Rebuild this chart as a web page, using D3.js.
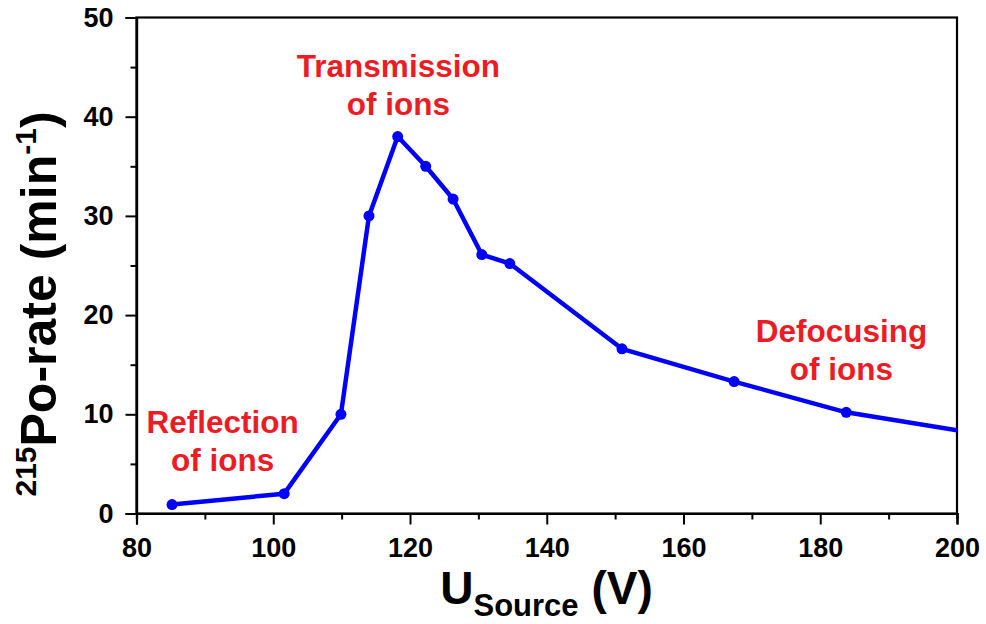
<!DOCTYPE html>
<html>
<head>
<meta charset="utf-8">
<script src="https://cdn.jsdelivr.net/npm/d3@7"></script>
<style>
  html, body { margin: 0; padding: 0; background: #fff; }
  svg { display: block; font-family: "Liberation Sans", Arial, sans-serif; }
</style>
</head>
<body>
<svg id="chart" width="986" height="624"></svg>
<script>
// Source voltage (V) and measured 215Po count rate (1/min)
const voltage = [85.2, 101.6, 109.9, 114.0, 118.2, 122.3, 126.3, 130.5, 134.6, 151.0, 167.4, 183.8, 200.0];
const rate    = [0.9, 2.0, 10.0, 30.0, 38.0, 35.0, 31.7, 26.1, 25.2, 16.6, 13.3, 10.2, 8.4];

const xTicks = [80, 100, 120, 140, 160, 180, 200];
const yTicks = [0, 10, 20, 30, 40, 50];

// Region annotations, anchored in data coordinates
const notes = [
  { x: 118.3, y: 44.0, lines: ["Transmission", "of ions"] },
  { x: 92.6,  y: 8.1,  lines: ["Reflection", "of ions"] },
  { x: 183.1, y: 17.3, lines: ["Defocusing", "of ions"] }
];

const svg = d3.select("#chart");
const L = 136.5, R = 957, T = 17.5, B = 513.5;

const x = d3.scaleLinear().domain([80, 200]).range([L, R]);
const y = d3.scaleLinear().domain([0, 50]).range([B, T]);

// Frame
svg.append("rect")
  .attr("x", L).attr("y", T).attr("width", R - L).attr("height", B - T)
  .attr("fill", "none").attr("stroke", "#000").attr("stroke-width", 2.2);

// Major and minor ticks
const xMinor = d3.range(90, 200, 20);
const yMinor = d3.range(5, 50, 10);

svg.append("g").attr("transform", `translate(0,${B})`)
  .call(d3.axisBottom(x).tickValues(xTicks).tickSize(11).tickPadding(13).tickFormat(d3.format("d")));
svg.append("g").attr("transform", `translate(0,${B})`)
  .call(d3.axisBottom(x).tickValues(xMinor).tickSize(6).tickFormat(""));
svg.append("g").attr("transform", `translate(${L},0)`)
  .call(d3.axisLeft(y).tickValues(yTicks).tickSize(11).tickPadding(12).tickFormat(d3.format("d")));
svg.append("g").attr("transform", `translate(${L},0)`)
  .call(d3.axisLeft(y).tickValues(yMinor).tickSize(6).tickFormat(""));

svg.selectAll(".domain").attr("stroke", "#000").attr("stroke-width", 2.2);
svg.selectAll(".tick line").attr("stroke", "#000").attr("stroke-width", 2);
svg.selectAll(".tick text")
  .attr("fill", "#000").attr("font-size", 27).attr("font-weight", "bold")
  .attr("font-family", "'Liberation Sans', Arial, sans-serif");

// Data line and markers
svg.append("clipPath").attr("id", "plotClip")
  .append("rect").attr("x", L).attr("y", T).attr("width", R - L).attr("height", B - T);

const pts = voltage.map((v, i) => [v, rate[i]]);
const plot = svg.append("g").attr("clip-path", "url(#plotClip)");
plot.append("path")
  .datum(pts)
  .attr("fill", "none").attr("stroke", "#0000ff").attr("stroke-width", 4.5)
  .attr("stroke-linejoin", "round")
  .attr("d", d3.line().x(d => x(d[0])).y(d => y(d[1])));
plot.selectAll("circle").data(pts.slice(0, -1)).join("circle")
  .attr("cx", d => x(d[0])).attr("cy", d => y(d[1])).attr("r", 5.5)
  .attr("fill", "#0000ff");

// Annotations
notes.forEach(n => {
  const t = svg.append("text")
    .attr("x", x(n.x)).attr("y", y(n.y))
    .attr("text-anchor", "middle").attr("fill", "#ed1c24")
    .attr("font-size", 31.5).attr("font-weight", "bold");
  n.lines.forEach((s, i) => t.append("tspan").attr("x", x(n.x)).attr("dy", i === 0 ? 0 : 38).text(s));
});

// Axis titles
const xt = svg.append("text")
  .attr("x", 546.5).attr("y", 604).attr("text-anchor", "middle")
  .attr("font-size", 46).attr("font-weight", "bold").attr("fill", "#000");
xt.append("tspan").text("U");
xt.append("tspan").attr("font-size", 31).attr("dy", 12).text("Source");
xt.append("tspan").attr("dy", -12).text(" (V)");

const yt = svg.append("text")
  .attr("transform", "translate(56,304) rotate(-90)")
  .attr("text-anchor", "middle")
  .attr("font-size", 50).attr("font-weight", "bold").attr("fill", "#000");
yt.append("tspan").attr("font-size", 30).attr("dy", -20).text("215");
yt.append("tspan").attr("dy", 20).text("Po-rate (min");
yt.append("tspan").attr("font-size", 30).attr("dy", -20).text("-1");
yt.append("tspan").attr("dy", 20).text(")");
</script>
</body>
</html>
